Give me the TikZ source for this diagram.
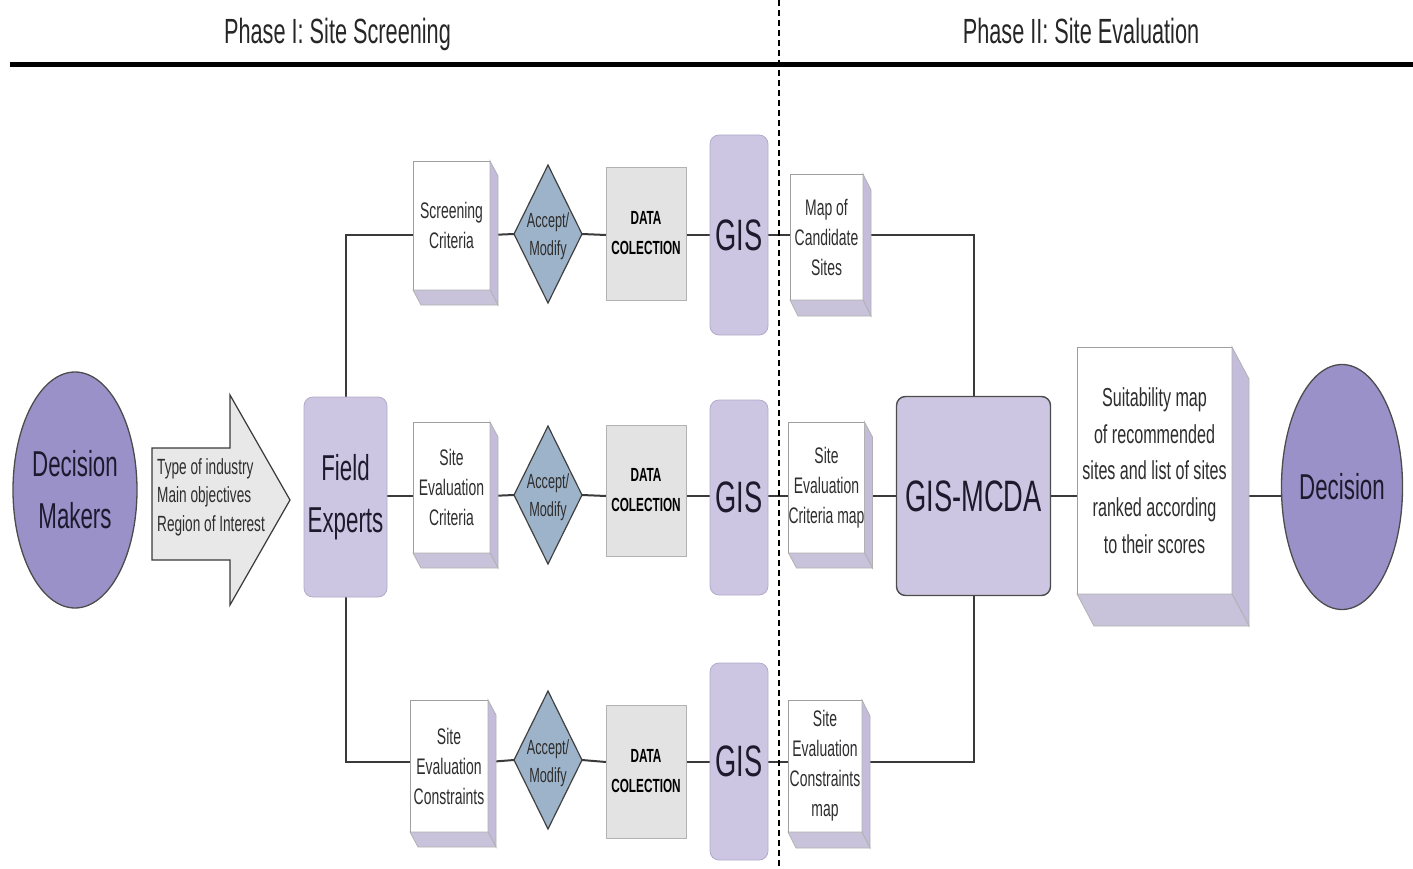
\documentclass[tikz,border=0pt]{standalone}
\usepackage{fontspec}
\setmainfont{Liberation Sans}[FakeStretch=0.62]
\usetikzlibrary{shapes.geometric,calc,backgrounds}

\definecolor{lav}{HTML}{CDC6E2}
\definecolor{lavedge}{HTML}{B2AACB}
\definecolor{lavdark}{HTML}{9A91C8}
\definecolor{lavside}{HTML}{C3BCDB}
\definecolor{lavbottom}{HTML}{C8C3DA}
\definecolor{steel}{HTML}{9DB3C9}
\definecolor{dcgray}{HTML}{E3E3E3}
\definecolor{arrowgray}{HTML}{E8E8E8}
\definecolor{linegray}{HTML}{3A3A3A}
\definecolor{ink}{HTML}{1E1A2E}
\definecolor{txt}{HTML}{2E2E2E}

\newcommand{\fs}[2]{\fontsize{#1}{#2}\selectfont}

% side and bottom faces of a raised box
\newcommand{\slabfaces}[3]{%
  \path[fill=lavside, draw=gray!60, line width=0.8pt]
    (#1.north east) -- ++(#2,#3) -- ($(#1.south east)+(#2,#3)$) -- (#1.south east) -- cycle;
  \path[fill=lavbottom, draw=gray!60, line width=0.8pt]
    (#1.south west) -- (#1.south east) -- ($(#1.south east)+(#2,#3)$) -- ($(#1.south west)+(#2,#3)$) -- cycle;
}

\begin{document}
\begin{tikzpicture}[x=1pt,y=-1pt,
  conn/.style={draw=linegray, line width=2pt},
  slab/.style={rectangle, fill=white, draw=gray!75, line width=0.8pt, align=center,
    inner sep=0pt, outer sep=0pt, text=txt, font=\fs{22.5}{30}},
  choice/.style={diamond, fill=steel, draw=black!75, line width=1.2pt, inner sep=0pt,
    outer sep=0pt, minimum width=68pt, minimum height=138pt},
  choicetxt/.style={align=center, inner sep=0pt, text=txt, font=\fs{20.5}{28}},
  dcbox/.style={rectangle, fill=dcgray, draw=gray!60, line width=0.8pt, align=center,
    inner sep=0pt, outer sep=0pt, minimum width=80pt, text=black,
    font=\bfseries\fs{19}{30}},
  gisbox/.style={rectangle, rounded corners=9pt, fill=lav, draw=lavedge, line width=0.8pt,
    inner sep=0pt, outer sep=0pt, minimum width=58pt, text=ink, font=\fs{44}{50}},
  bigbox/.style={rectangle, rounded corners=9pt, fill=lav, align=center, inner sep=0pt,
    outer sep=0pt, text=ink},
  person/.style={ellipse, fill=lavdark, draw=black!70, line width=1.3pt, align=center,
    inner sep=0pt, outer sep=0pt, text=ink, font=\fs{36}{52}},
  phase/.style={anchor=base, inner sep=0pt, text=black!85, font=\fs{35}{40}}
]
\useasboundingbox (0,0) rectangle (1413,869);

% heading band
\node[phase] (ph1) at (337.5,44) {Phase I: Site Screening};
\node[phase] (ph2) at (1081,44) {Phase II: Site Evaluation};
\draw[line width=5pt, black] (10,65) -- (1413,65);
\draw[line width=1.4pt, black, dash pattern=on 6pt off 4pt] (779,0) -- (779,869);

% row levels
\coordinate (r1) at (0,235);
\coordinate (r2) at (0,496);
\coordinate (r3) at (0,762);

% stakeholders
\node[person, minimum width=124pt, minimum height=236pt] (dm) at (75,490) {Decision\\Makers};
\path[draw=linegray, fill=arrowgray, line width=1.2pt]
  (152,448) -- (230,448) -- (230,395) -- (290,500) -- (230,605) -- (230,560) -- (152,560) -- cycle;
\node[anchor=west, align=left, inner sep=0pt, text=txt, font=\fs{22}{28.5}] (needs) at (157,497)
  {Type of industry\\Main objectives\\Region of Interest};
\node[bigbox, draw=lavedge, line width=0.8pt, minimum width=83pt, minimum height=200pt,
  font=\fs{36}{52}] (fe) at (345.5,497) {Field\\Experts};

% screening row
\node[slab, minimum width=77pt, minimum height=129pt] (sc) at (451.5,225.5) {Screening\\Criteria};
\node[choice] (am1) at (548,234) {};
\node[choicetxt] (am1t) at (548,236) {Accept/\\Modify};
\node[dcbox, minimum height=133pt] (dc1) at (646,233.5) {DATA\\COLECTION};
\node[gisbox, minimum height=200pt] (gis1) at (739,235) {GIS};
\node[slab, minimum width=73pt, minimum height=126pt] (mcs) at (826.5,237) {Map of\\Candidate\\Sites};

% criteria row
\node[slab, minimum width=77pt, minimum height=131pt] (sec) at (451.5,487.5) {Site\\Evaluation\\Criteria};
\node[choice] (am2) at (548,495) {};
\node[choicetxt] (am2t) at (548,497) {Accept/\\Modify};
\node[dcbox, minimum height=131pt] (dc2) at (646,490.5) {DATA\\COLECTION};
\node[gisbox, minimum height=195pt] (gis2) at (739,497.5) {GIS};
\node[slab, minimum width=73pt, minimum height=131pt] (secm) at (826.5,487.5) {Site\\Evaluation\\Criteria map};

% constraints row
\node[slab, minimum width=78pt, minimum height=132pt] (secn) at (449,766) {Site\\Evaluation\\Constraints};
\node[choice] (am3) at (548,760) {};
\node[choicetxt] (am3t) at (548,763) {Accept/\\Modify};
\node[dcbox, minimum height=133pt] (dc3) at (646,771.5) {DATA\\COLECTION};
\node[gisbox, minimum height=197pt] (gis3) at (739,761.5) {GIS};
\node[slab, minimum width=74pt, minimum height=132pt] (secnm) at (825,766) {Site\\Evaluation\\Constraints\\map};

% evaluation and outcome
\node[bigbox, draw=black!70, line width=1.4pt, minimum width=154pt, minimum height=199pt,
  font=\fs{44}{50}] (mcda) at (973.5,496) {GIS-MCDA};
\node[slab, minimum width=155pt, minimum height=247pt, font=\fs{26}{36.7}] (suit) at (1154.5,470.5)
  {Suitability map\\of recommended\\sites and list of sites\\ranked according\\to their scores};
\node[person, minimum width=121pt, minimum height=245pt] (dec) at (1342,487) {Decision};

% raised-box depth
\slabfaces{sc}{8}{15}
\slabfaces{sec}{8}{15}
\slabfaces{secn}{8}{15}
\slabfaces{mcs}{8}{16}
\slabfaces{secm}{8}{15}
\slabfaces{secnm}{8}{16}
\slabfaces{suit}{17}{32}

% connectors
\begin{pgfonlayer}{background}
  \draw[conn] (fe.north) |- (sc.west |- r1);
  \draw[conn] (sc.east |- r1) -- (am1.west);
  \draw[conn] (am1.east) -- (dc1.west |- r1);
  \draw[conn] (dc1.east |- r1) -- (gis1.west |- r1);
  \draw[conn] (gis1.east |- r1) -- (mcs.west |- r1);
  \draw[conn] (mcs.east |- r1) -| (mcda.north);

  \draw[conn] (fe.east |- r2) -- (sec.west |- r2);
  \draw[conn] (sec.east |- r2) -- (am2.west);
  \draw[conn] (am2.east) -- (dc2.west |- r2);
  \draw[conn] (dc2.east |- r2) -- (gis2.west |- r2);
  \draw[conn] (gis2.east |- r2) -- (secm.west |- r2);
  \draw[conn] (secm.east |- r2) -- (mcda.west |- r2);
  \draw[conn] (mcda.east |- r2) -- (suit.west |- r2);
  \draw[conn] (suit.east |- r2) -- (dec.west |- r2);

  \draw[conn] (fe.south) |- (secn.west |- r3);
  \draw[conn] (secn.east |- r3) -- (am3.west);
  \draw[conn] (am3.east) -- (dc3.west |- r3);
  \draw[conn] (dc3.east |- r3) -- (gis3.west |- r3);
  \draw[conn] (gis3.east |- r3) -- (secnm.west |- r3);
  \draw[conn] (secnm.east |- r3) -| (mcda.south);
\end{pgfonlayer}
\end{tikzpicture}
\end{document}
